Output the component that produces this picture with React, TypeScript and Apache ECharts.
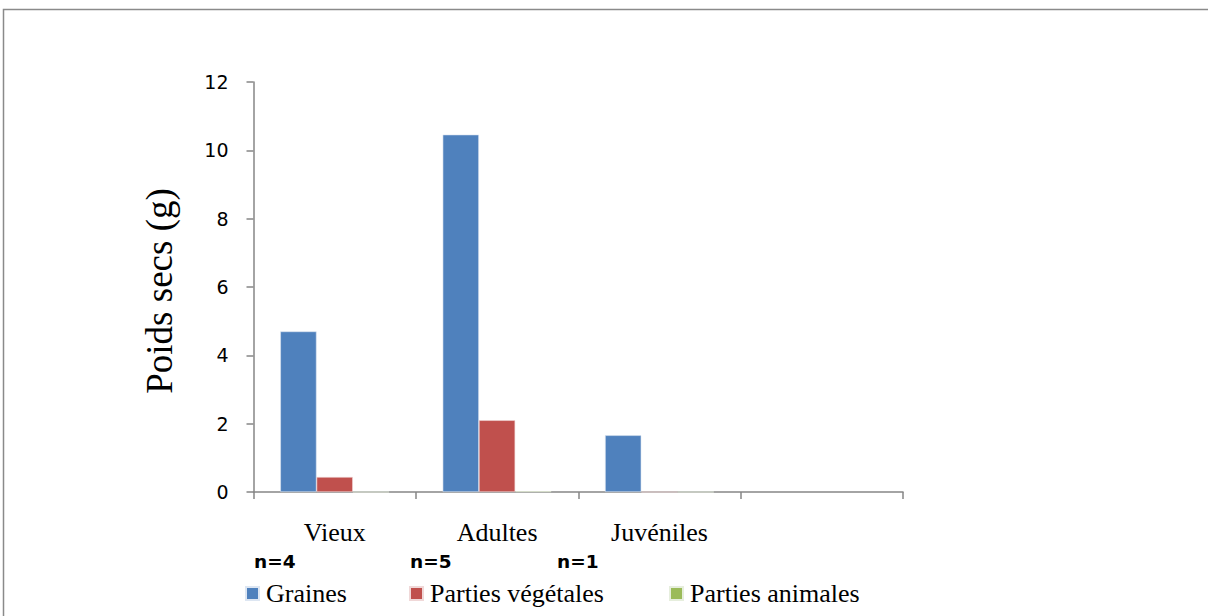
import React, { useEffect, useRef } from "react";
import * as echarts from "echarts";

const categories = ["Vieux", "Adultes", "Juvéniles", ""];
const graines = [4.7, 10.46, 1.66, null];
const partiesVegetales = [0.44, 2.1, 0, null];
const partiesAnimales = [0, 0.02, 0, null];
const effectifs = ["n=4", "n=5", "n=1"];
const yTicks = { min: 0, max: 12, interval: 2 };

const AXIS_GREY = "#868686";
const SERIF = "'Liberation Serif', 'Times New Roman', serif";
const SANS = "'DejaVu Sans', 'Liberation Sans', sans-serif";

export default function App() {
  const ref = useRef<HTMLDivElement>(null);

  useEffect(() => {
    if (!ref.current) return;
    const chart = echarts.init(ref.current, undefined, { renderer: "svg" });

    const legendBase = {
      top: 580.5,
      padding: 0,
      icon: "rect",
      itemWidth: 13,
      itemHeight: 13,
      itemGap: 0,
      textStyle: { fontFamily: SERIF, fontSize: 26, color: "#000", padding: [0, 0, 0, 2] },
      selectedMode: false,
    };

    chart.setOption({
      animation: false,
      backgroundColor: "#fff",
      color: ["#4F81BD", "#C0504D", "#9BBB59"],
      grid: { left: 253.5, right: 305, top: 82, bottom: 124, containLabel: false },
      legend: [
        { ...legendBase, left: 245, data: ["Graines"] },
        { ...legendBase, left: 409, data: ["Parties végétales"] },
        { ...legendBase, left: 669, data: ["Parties animales"] },
      ],
      xAxis: {
        type: "category",
        data: categories,
        axisLine: { lineStyle: { color: AXIS_GREY, width: 1.5 } },
        axisTick: { show: true, length: 7, alignWithLabel: false, lineStyle: { color: AXIS_GREY, width: 1.5 } },
        axisLabel: { fontFamily: SERIF, fontSize: 26, color: "#000", margin: 27, interval: 0 },
      },
      yAxis: {
        type: "value",
        min: yTicks.min,
        max: yTicks.max,
        interval: yTicks.interval,
        name: "Poids secs (g)",
        nameLocation: "middle",
        nameGap: 76,
        nameTextStyle: { fontFamily: SERIF, fontSize: 37, color: "#000", padding: [0, 8, 0, 0] },
        axisLine: { show: true, lineStyle: { color: AXIS_GREY, width: 1.5 } },
        axisTick: { show: true, length: 7, lineStyle: { color: AXIS_GREY, width: 1.5 } },
        axisLabel: { fontFamily: SANS, fontSize: 19, color: "#000", margin: 25 },
        splitLine: { show: false },
      },
      series: [
        { name: "Graines", type: "bar", data: graines, barGap: "0%", barCategoryGap: "33%", itemStyle: { borderColor: "#dde6f2", borderWidth: 0.6 } },
        { name: "Parties végétales", type: "bar", data: partiesVegetales, barGap: "0%", barCategoryGap: "33%", itemStyle: { borderColor: "#f0d8d8", borderWidth: 0.6 } },
        { name: "Parties animales", type: "bar", data: partiesAnimales, barGap: "0%", barCategoryGap: "33%", itemStyle: { borderColor: "#e6eedd", borderWidth: 0.6 } },
      ],
      graphic: [
        {
          type: "rect",
          shape: { x: 3.5, y: 9.5, width: 1240, height: 640 },
          style: { fill: "none", stroke: "#8a8a8a", lineWidth: 1.5 },
          silent: true,
        },
        ...effectifs.map((t, i) => ({
          type: "text",
          left: [254, 410, 557][i],
          top: 551.5,
          style: { text: t, fontFamily: SANS, fontWeight: "bold", fontSize: 18.5, fill: "#000" },
        })),
      ],
    });

    return () => chart.dispose();
  }, []);

  return (
    <div
      ref={ref}
      style={{ position: "fixed", left: 0, top: 0, width: 1208, height: 616 }}
    />
  );
}
